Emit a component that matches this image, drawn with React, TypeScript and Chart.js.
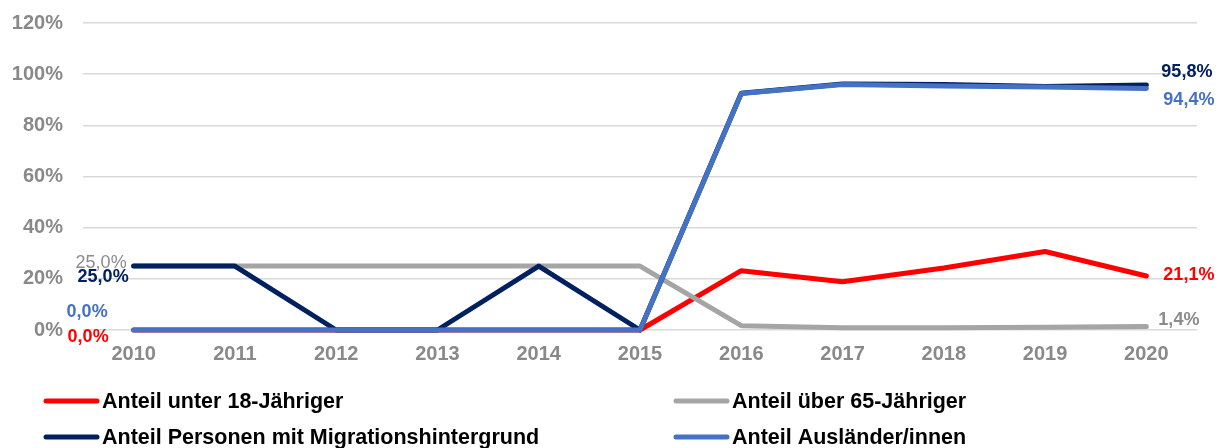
import React, { useEffect, useRef } from "react";
import { Chart, registerables } from "chart.js";

Chart.register(...registerables);

const years = ["2010", "2011", "2012", "2013", "2014", "2015", "2016", "2017", "2018", "2019", "2020"];
const under18 = [0, 0, 0, 0, 0, 0, 23.2, 18.9, 24.2, 30.7, 21.1];
const over65 = [25, 25, 25, 25, 25, 25, 1.7, 0.9, 0.9, 1.1, 1.4];
const migration = [25, 25, 0, 0, 25, 0, 92.5, 96.2, 96.0, 95.2, 95.8];
const foreigners = [0, 0, 0, 0, 0, 0, 92.4, 96.0, 95.4, 95.0, 94.4];

const seriesNames = [
  "Anteil unter 18-Jähriger",
  "Anteil über 65-Jähriger",
  "Anteil Personen mit Migrationshintergrund",
  "Anteil Ausländer/innen",
];
const lineColors = ["#FF0000", "#A5A5A5", "#002060", "#4472C4"];
const labelColors = ["#FF0000", "#8C8C8C", "#002060", "#4472C4"];

// label placement per dataset: [first, last] => dx, dy, align, weight
const labelPlacement = [
  [{ dx: -25, dy: 7, align: "right", weight: "bold" }, { dx: 17, dy: -1, align: "left", weight: "bold" }],
  [{ dx: -7, dy: -3, align: "right", weight: "normal" }, { dx: 12, dy: -6, align: "left", weight: "bold" }],
  [{ dx: -5, dy: 11, align: "right", weight: "bold" }, { dx: 15, dy: -12.5, align: "left", weight: "bold" }],
  [{ dx: -26, dy: -17.5, align: "right", weight: "bold" }, { dx: 17, dy: 12, align: "left", weight: "bold" }],
];

const FONT = "'Liberation Sans', Arial, sans-serif";

const fmt = (v: number) => v.toFixed(1).replace(".", ",") + "%";

const dataLabelPlugin = {
  id: "endLabels",
  afterDatasetsDraw(chart: any) {
    const ctx = chart.ctx;
    ctx.save();
    ctx.textBaseline = "middle";
    chart.data.datasets.forEach((ds: any, i: number) => {
      const meta = chart.getDatasetMeta(i);
      const pts = meta.data;
      const idxs = [0, pts.length - 1];
      idxs.forEach((idx, k) => {
        const p = pts[idx];
        const spec = labelPlacement[i][k];
        ctx.font = `${spec.weight} 18px ${FONT}`;
        ctx.fillStyle = labelColors[i];
        ctx.textAlign = spec.align;
        ctx.fillText(fmt(ds.data[idx]), p.x + spec.dx, p.y + spec.dy);
      });
    });
    ctx.restore();
  },
};

const legendPlugin = {
  id: "customLegend",
  afterDraw(chart: any) {
    const ctx = chart.ctx;
    ctx.save();
    const cols = [46, 676];
    const rows = [401, 437];
    [0, 1, 2, 3].forEach((i) => {
      const x = cols[i % 2];
      const y = rows[Math.floor(i / 2)];
      ctx.strokeStyle = lineColors[i];
      ctx.lineWidth = 5;
      ctx.lineCap = "round";
      ctx.beginPath();
      ctx.moveTo(x, y);
      ctx.lineTo(x + 51, y);
      ctx.stroke();
      ctx.font = `bold 21.5px ${FONT}`;
      ctx.fillStyle = "#000000";
      ctx.textAlign = "left";
      ctx.textBaseline = "middle";
      ctx.fillText(seriesNames[i], x + 56, y + 1);
    });
    ctx.restore();
  },
};

export default function App() {
  const ref = useRef<HTMLCanvasElement>(null);
  useEffect(() => {
    document.body.style.margin = "0";
    const values = [under18, over65, migration, foreigners];
    const chart = new Chart(ref.current as HTMLCanvasElement, {
      type: "line",
      data: {
        labels: years,
        datasets: values.map((d, i) => ({
          label: seriesNames[i],
          data: d,
          borderColor: lineColors[i],
          backgroundColor: lineColors[i],
          borderWidth: 5,
          pointRadius: 0,
          tension: 0,
          borderCapStyle: "round",
          borderJoinStyle: "round",
          order: 4 - i,
          clip: 10,
        })),
      },
      options: {
        animation: false,
        responsive: false,
        devicePixelRatio: 1,
        layout: { padding: { left: 0, right: 26, top: 23, bottom: 0 } },
        plugins: {
          legend: { display: false },
          tooltip: { enabled: false },
        },
        scales: {
          x: {
            offset: true,
            grid: { display: false, drawTicks: false },
            border: { display: false },
            ticks: {
              color: "#898989",
              font: { family: FONT, size: 20, weight: "bold" },
              padding: 12,
              maxRotation: 0,
            },
            afterFit: (s: any) => {
              s.height = 118;
            },
          },
          y: {
            min: 0,
            max: 120,
            grid: {
              color: "#D9D9D9",
              lineWidth: 1.5,
              drawTicks: true,
              tickLength: 9,
              tickColor: "rgba(0,0,0,0)",
            },
            border: { display: false },
            ticks: {
              stepSize: 20,
              color: "#898989",
              font: { family: FONT, size: 20, weight: "bold" },
              padding: 11,
              callback: (v: any) => v + "%",
            },
            afterFit: (s: any) => {
              s.width = 83;
            },
          },
        },
      },
      plugins: [dataLabelPlugin, legendPlugin],
    } as any);
    return () => chart.destroy();
  }, []);
  return (
    <div style={{ width: 1223, height: 448, background: "#fff" }}>
      <canvas ref={ref} width={1223} height={448} />
    </div>
  );
}
